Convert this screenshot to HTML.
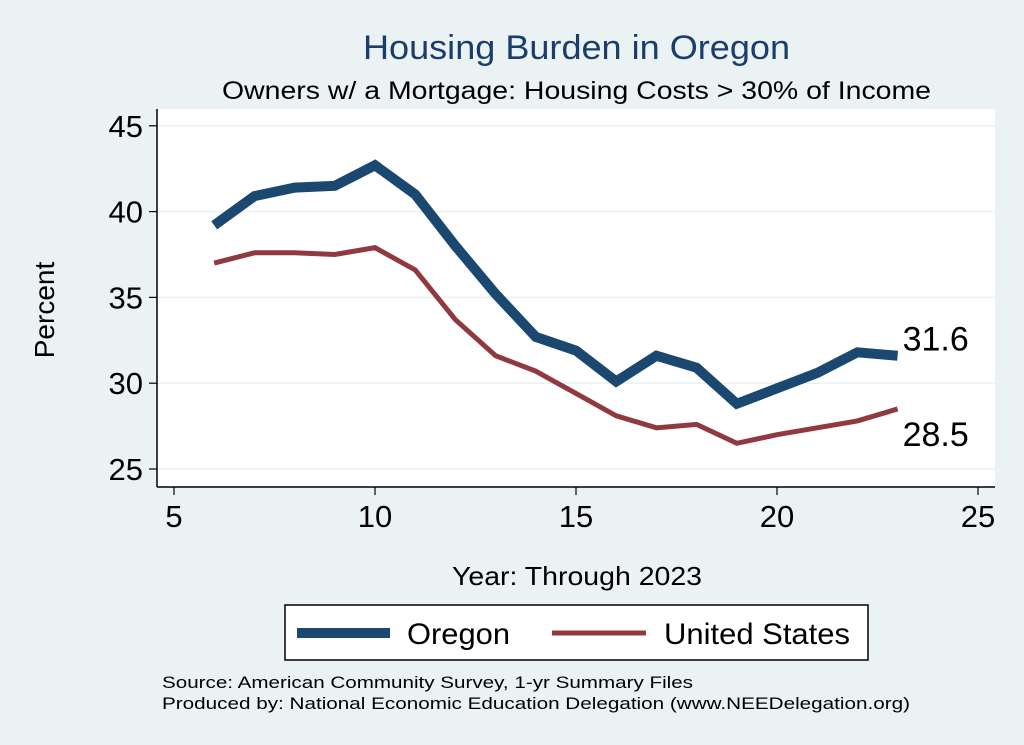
<!DOCTYPE html>
<html><head><meta charset="utf-8"><style>
body{margin:0;background:#eaf2f3;}
svg{display:block;font-family:"Liberation Sans",sans-serif;}
</style></head><body>
<svg width="1024" height="745">
<rect x="0" y="0" width="1024" height="745" fill="#eaf2f3"/>
<text x="363" y="59" font-size="34" fill="#1a3e6a" textLength="427" lengthAdjust="spacingAndGlyphs">Housing Burden in Oregon</text>
<text x="222" y="99" font-size="25" fill="#000" textLength="709" lengthAdjust="spacingAndGlyphs">Owners w/ a Mortgage: Housing Costs &gt; 30% of Income</text>
<rect x="157" y="109" width="838" height="378" fill="#fff"/>
<g id="grid"></g>
<g id="axes"></g>
<g id="series"></g>
<text x="54" y="310" font-size="28" text-anchor="middle" transform="rotate(-90 54 310)">Percent</text>
<text x="452" y="585" font-size="26" textLength="250" lengthAdjust="spacingAndGlyphs">Year: Through 2023</text>
<g>
<rect x="285" y="605" width="583" height="55" fill="#fff" stroke="#000" stroke-width="1.5"/>
<line x1="297" y1="633" x2="390" y2="633" stroke="#1b4870" stroke-width="10"/>
<text x="407" y="644" font-size="30" textLength="103" lengthAdjust="spacingAndGlyphs">Oregon</text>
<line x1="552" y1="633" x2="646" y2="633" stroke="#903a40" stroke-width="5"/>
<text x="664" y="644" font-size="30" textLength="186" lengthAdjust="spacingAndGlyphs">United States</text>
</g>
<text x="162" y="688" font-size="17" textLength="531" lengthAdjust="spacingAndGlyphs">Source: American Community Survey, 1-yr Summary Files</text>
<text x="162" y="709" font-size="17" textLength="748" lengthAdjust="spacingAndGlyphs">Produced by: National Economic Education Delegation (www.NEEDelegation.org)</text>
</svg>
<script>
const years=[6,7,8,9,10,11,12,13,14,15,16,17,18,19,20,21,22,23];
const oregon=[39.2,40.9,41.4,41.5,42.7,41.0,38.0,35.2,32.7,31.9,30.1,31.6,30.9,28.8,29.7,30.6,31.8,31.6];
const us=[37.0,37.6,37.6,37.5,37.9,36.6,33.7,31.6,30.7,29.4,28.1,27.4,27.6,26.5,27.0,27.4,27.8,28.5];
const xTicks=[5,10,15,20,25];
const yTicks=[25,30,35,40,45];
const NS='http://www.w3.org/2000/svg';
const X=v=>174+(v-5)*40.2;
const Y=v=>469-(v-25)*17.16;
function mk(tag,attrs,parent){const e=document.createElementNS(NS,tag);for(const k in attrs)e.setAttribute(k,attrs[k]);parent.appendChild(e);return e;}
const grid=document.getElementById('grid'),axes=document.getElementById('axes'),series=document.getElementById('series');
yTicks.forEach(t=>{
 const g=mk('line',{x1:157,x2:995,y1:Y(t),y2:Y(t),stroke:'#eaf2f3','stroke-width':1.5},grid);
 
 
 const tk=mk('line',{x1:149,x2:157,y1:Y(t),y2:Y(t),stroke:'#000','stroke-width':1.2},axes);
 
 
 const tx=mk('text',{x:143,y:Y(t)+11,'font-size':31,'text-anchor':'end'},axes);
 tx.textContent=t;
 
 
});
xTicks.forEach(t=>{
 const tk=mk('line',{x1:X(t),x2:X(t),y1:487,y2:495,stroke:'#000','stroke-width':1.2},axes);
 
 
 const tx=mk('text',{x:X(t),y:527,'font-size':31,'text-anchor':'middle'},axes);
 tx.textContent=t;
 
 
});
const ya=mk('line',{x1:157,x2:157,y1:109,y2:487,stroke:'#000','stroke-width':1.5},axes);


const xa=mk('line',{x1:157,x2:995,y1:487,y2:487,stroke:'#000','stroke-width':1.5},axes);


function pts(d){return years.map((y,i)=>X(y)+','+Y(d[i])).join(' ');}
const l2=mk('polyline',{points:pts(us),fill:'none',stroke:'#903a40','stroke-width':5,'stroke-linejoin':'miter'},series);


const l1=mk('polyline',{points:pts(oregon),fill:'none',stroke:'#1b4870','stroke-width':10,'stroke-linejoin':'miter'},series);


const n=years.length-1;
const a1=mk('text',{x:X(years[n])+5,y:Y(oregon[n])-5,'font-size':34},series);
a1.textContent=oregon[n].toFixed(1);


const a2=mk('text',{x:X(years[n])+5,y:Y(us[n])+37,'font-size':34},series);
a2.textContent=us[n].toFixed(1);


</script>
</body></html>
